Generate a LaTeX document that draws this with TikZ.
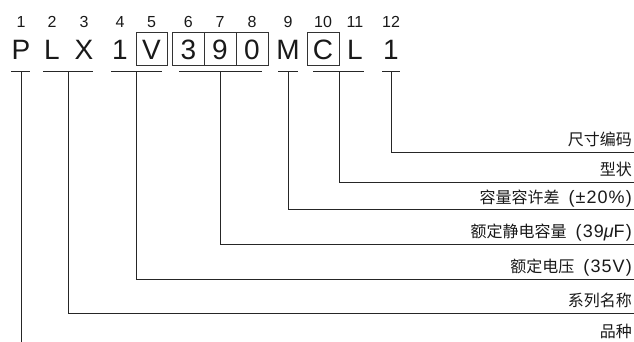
\documentclass[tikz,border=0pt]{standalone}
\usepackage{fontspec}
\setmainfont{Liberation Sans}
\newfontfamily\cjk{Noto Sans CJK SC}
\newcommand{\lat}[1]{{\fontsize{18}{18}\selectfont\addfontfeature{LetterSpace=6}#1}}
\newcommand{\gap}{\hspace{9pt}}
\begin{document}
\begin{tikzpicture}[x=1pt,y=-1pt,
  ln/.style={draw=black!85,line width=0.9pt},
  bx/.style={draw=black!80,line width=0.8pt},
  letter/.style={anchor=base,inner sep=0pt,font=\fontsize{28}{28}\selectfont,text=black!90},
  digit/.style={anchor=base,inner sep=0pt,font=\fontsize{16}{16}\selectfont,text=black!90},
  lab/.style={anchor=base east,inner sep=0pt,font=\fontsize{16}{16}\selectfont,text=black!90}]
\useasboundingbox (0,0) rectangle (634,342);
% letters
\foreach \n/\x/\t in {1/21/P,2/52/L,3/84/X,4/120/1,5/151.5/V,6/188.3/3,7/220/9,8/252/0,9/288/M,10/323/C,11/355/L,12/391/1}{
  \node[letter] (l\n) at (\x,60) {\t};
  \node[digit] (d\n) at (\x,27.5) {\n};
}
% boxes
\draw[bx] (136,32.3) rectangle (167.3,65);
\draw[bx] (172.7,32.3) rectangle (268,65);
\draw[bx] (204,32.3) -- (204,65);
\draw[bx] (236,32.3) -- (236,65);
\draw[bx] (307.3,32.3) rectangle (339.3,65);
% underlines
\foreach \n/\a/\b in {1/11/30,2/43/93,3/111/162,4/179/262,5/278/298,6/313/364,7/382/400}{
  \coordinate (ua\n) at (\a,71.5);
  \coordinate (ub\n) at (\b,71.5);
  \draw[ln] (ua\n) -- (ub\n);
}
% stem points
\coordinate (s1) at (21,71.5);
\coordinate (s2) at (68,71.5);
\coordinate (s3) at (136,71.5);
\coordinate (s4) at (220,71.5);
\coordinate (s5) at (288,71.5);
\coordinate (s6) at (339,71.5);
\coordinate (s7) at (391,71.5);
% line ends
\coordinate (e7) at (634,152);
\coordinate (e6) at (634,182);
\coordinate (e5) at (634,209);
\coordinate (e4) at (634,244);
\coordinate (e3) at (634,279);
\coordinate (e2) at (634,313);
\coordinate (e1) at (21,342);
% labels
\node[lab] (t7) at (632,145.5) {\cjk 尺寸编码};
\node[lab] (t6) at (632,175.5) {\cjk 型状};
\node[lab] (t5) at (632,203) {{\cjk 容量容许差}\gap\lat{(±20\%)}};
\node[lab] (t4) at (632,237) {{\cjk 额定静电容量}\gap\lat{(39{\itshape μ}F)}};
\node[lab] (t3) at (632,272) {{\cjk 额定电压}\gap\lat{(35V)}};
\node[lab] (t2) at (632,306.5) {\cjk 系列名称};
\node[lab] (t1) at (632,337) {\cjk 品种};
% connectors
\foreach \n in {2,...,7}{\draw[ln] (s\n) |- (e\n);}
\draw[ln] (s1) -- (e1);
\end{tikzpicture}
\end{document}
